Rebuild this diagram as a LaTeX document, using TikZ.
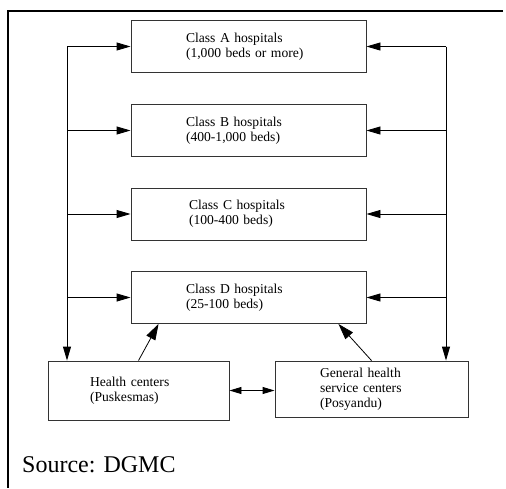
\documentclass[tikz,border=0pt]{standalone}
\usepackage{fontspec}
\setmainfont{Liberation Serif}
\usepackage{tikz}
\usetikzlibrary{arrows.meta}
\tikzstyle{hospital}=[draw=black!80,line width=0.9pt,minimum width=235pt,minimum height=52pt,text width=125pt,inner xsep=55pt,inner ysep=0pt,align=left,font=\fontsize{13.6}{15}\selectfont]
\tikzstyle{centre}=[draw=black!80,line width=0.9pt,inner ysep=0pt,align=left,font=\fontsize{13.6}{15}\selectfont]
\tikzstyle{link}=[line width=0.9pt,-{Triangle[length=14pt,width=8pt]}]
\tikzstyle{bigtip}=[line width=0.8pt,-{Triangle[length=16pt,width=10pt]}]
\tikzstyle{frame}=[line width=2pt]

\begin{document}
\begin{tikzpicture}[x=1pt,y=-1pt]
\useasboundingbox (0,0) rectangle (506,488);
\draw[frame] (503,11) -- (8,11) -- (8,488);
% the four hospital classes
\node[hospital] (A) at (248.5,46.5) {Class A hospitals\\(1,000 beds or more)};
\node[hospital] (B) at (248.5,130.5) {Class B hospitals\\(400-1,000 beds)};
\node[hospital] (C) at (248.5,214) {\hspace*{3pt}Class C hospitals\\\hspace*{3pt}(100-400 beds)};
\node[hospital] (D) at (248.5,297.5) {Class D hospitals\\(25-100 beds)};
% the two kinds of centres
\node[centre,minimum width=181pt,minimum height=59pt,text width=97pt,inner xsep=42pt] (hc) at (138.5,390.5) {Health centers\\(Puskesmas)\par\vspace*{12pt}};
\node[centre,minimum width=193pt,minimum height=56pt,text width=103pt,inner xsep=45pt] (gen) at (371.5,389) {General health\\service centers\\(Posyandu)};
\coordinate (lt) at (67,0);
\coordinate (rt) at (446,0);
% referral lines
\draw[link] (lt |- A.west) -- (lt |- hc.north);
\draw[link] (rt |- A.east) -- (rt |- gen.north);
\foreach \h in {A,B,C,D} {
  \draw[link] (lt |- \h.west) -- (\h.west);
  \draw[link] (rt |- \h.east) -- (\h.east);
}
\draw[bigtip] (hc.north) -- ([xshift=28pt]D.south west);
\draw[bigtip] (gen.north) -- ([xshift=-28pt]D.south east);
\draw[line width=0.9pt,{Triangle[length=12pt,width=7pt]}-{Triangle[length=12pt,width=7pt]}] (hc.east) -- (gen.west |- hc.east);
\node[anchor=base west,inner sep=0pt,font=\fontsize{24}{26}\selectfont] (src) at (22,472) {Source: DGMC};
\end{tikzpicture}
\end{document}
